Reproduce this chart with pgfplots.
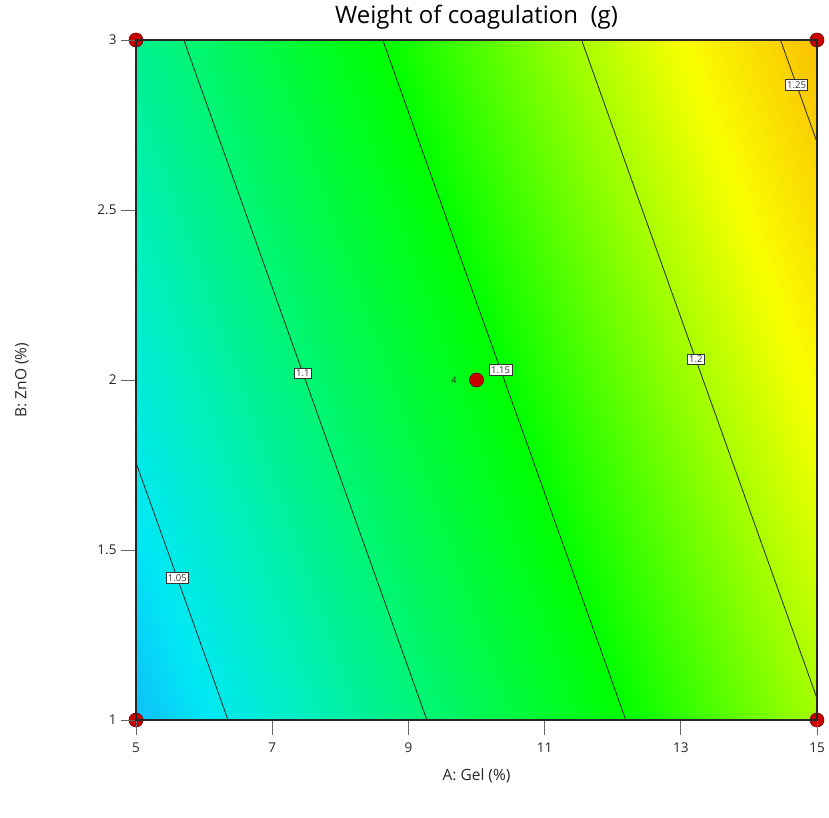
\documentclass[border=0pt]{standalone}
\usepackage{fontspec}
\setmainfont{Open Sans}
\usepackage{pgfplots}
\pgfplotsset{compat=1.18}
\definecolor{ptred}{RGB}{200,0,0}
\definecolor{ptdark}{RGB}{110,0,0}
\definecolor{txt}{RGB}{40,40,40}
\begin{document}
\begin{tikzpicture}
\begin{axis}[
  at={(0,0)}, anchor=south west,
  scale only axis, width=681pt, height=680pt,
  xmin=5, xmax=15, ymin=1, ymax=3,
  xtick={5,7,9,11,13,15}, ytick={1,1.5,2,2.5,3},
  tick pos=left, tick align=outside, major tick length=15pt,
  tick style={black!60, line width=0.8pt},
  axis line style={black!85, line width=1.2pt},
  /pgf/number format/assume math mode=true,
  ticklabel style={font=\fontsize{13.5}{15}\selectfont, text=txt},
  xticklabel style={yshift=-4pt},
  yticklabel style={xshift=-1pt},
  title={Weight of coagulation\ \ (g)},
  title style={at={(axis description cs:0.5,1)}, anchor=center, yshift=17pt, font=\fontsize{24}{28}\selectfont, text=black},
  xlabel={A: Gel (\%)},
  xlabel style={at={(axis description cs:0.5,0)}, anchor=center, yshift=-56pt, font=\fontsize{15.5}{18}\selectfont, text=txt},
  ylabel={B: ZnO (\%)},
  ylabel style={at={(axis description cs:-0.1674,0.5)}, anchor=center, font=\fontsize{15.5}{18}\selectfont, text=txt},
  colormap={de}{rgb255(0pt)=(20,175,250); rgb255(25pt)=(0,232,245); rgb255(50pt)=(0,240,190); rgb255(70pt)=(0,242,140); rgb255(100pt)=(0,250,70); rgb255(130pt)=(0,255,0); rgb255(180pt)=(170,255,0); rgb255(205pt)=(250,255,0); rgb255(240pt)=(250,190,0)},
  point meta min=1.02, point meta max=1.26,
  clip=false,
  set layers, axis on top,
]
\addplot[surf, shader=interp, mesh/cols=11, point meta=\thisrow{f}] table {
x y f
5 1 1.0269
6 1 1.0440
7 1 1.0611
8 1 1.0782
9 1 1.0953
10 1 1.1125
11 1 1.1296
12 1 1.1467
13 1 1.1638
14 1 1.1809
15 1 1.1981
5 1.5 1.0421
6 1.5 1.0593
7 1.5 1.0764
8 1.5 1.0935
9 1.5 1.1106
10 1.5 1.1277
11 1.5 1.1449
12 1.5 1.1620
13 1.5 1.1791
14 1.5 1.1962
15 1.5 1.2133
5 2 1.0574
6 2 1.0745
7 2 1.0917
8 2 1.1088
9 2 1.1259
10 2 1.1430
11 2 1.1601
12 2 1.1773
13 2 1.1944
14 2 1.2115
15 2 1.2286
5 2.5 1.0727
6 2.5 1.0898
7 2.5 1.1069
8 2.5 1.1241
9 2.5 1.1412
10 2.5 1.1583
11 2.5 1.1754
12 2.5 1.1925
13 2.5 1.2097
14 2.5 1.2268
15 2.5 1.2439
5 3 1.0880
6 3 1.1051
7 3 1.1222
8 3 1.1393
9 3 1.1565
10 3 1.1736
11 3 1.1907
12 3 1.2078
13 3 1.2249
14 3 1.2421
15 3 1.2592
};
\tikzset{clab/.style={fill=white, draw=black!80, line width=0.6pt, inner sep=1.8pt, font=\fontsize{9.5}{10}\selectfont, text=black!80}}
\addplot[black!85, line width=0.8pt] coordinates {(5,1.757) (6.352,1)} node[clab, pos=0.448] {1.05};
\addplot[black!85, line width=0.8pt] coordinates {(5.702,3) (9.272,1)} node[clab, pos=0.49] {1.1};
\addplot[black!85, line width=0.8pt] coordinates {(8.623,3) (12.193,1)} node[clab, pos=0.485] {1.15};
\addplot[black!85, line width=0.8pt] coordinates {(11.543,3) (15,1.0635)} node[clab, pos=0.485] {1.2};
\addplot[black!85, line width=0.8pt] coordinates {(14.464,3) (15,2.6996)} node[clab, pos=0.44] {1.25};
\addplot[only marks, mark=*, mark size=7pt, mark options={fill=ptred, draw=ptdark, line width=0.6pt}, on layer=axis foreground] coordinates {(5,1) (5,3) (15,1) (15,3) (10,2)};
\node[font=\fontsize{9}{10}\selectfont, text=txt, anchor=east] at (axis cs:9.76,2) {4};
\end{axis}
\pgfresetboundingbox
\path[use as bounding box] (-136pt,-98pt) rectangle (693pt,720pt);
\end{tikzpicture}
\end{document}
